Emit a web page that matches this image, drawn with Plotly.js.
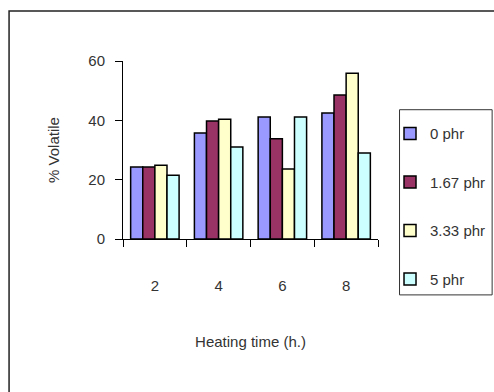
<!DOCTYPE html>
<html>
<head>
<meta charset="utf-8">
<script src="https://cdn.plot.ly/plotly-3.0.1.min.js"></script>
<style>html,body{margin:0;padding:0;background:#fff;}#chart{width:494px;height:392px;}</style>
</head>
<body>
<div id="chart"></div>
<script>
var categories = ["2", "4", "6", "8"];
var seriesNames = ["0 phr", "1.67 phr", "3.33 phr", "5 phr"];
var phr0 = [24.3, 35.7, 41.1, 42.5];
var phr167 = [24.3, 39.8, 33.8, 48.5];
var phr333 = [24.9, 40.4, 23.6, 55.9];
var phr5 = [21.5, 31.0, 41.1, 29.0];
var colors = ["#9999FF", "#993366", "#FFFFCC", "#CCFFFF"];
var yTicks = [0, 20, 40, 60];

var values = [phr0, phr167, phr333, phr5];
var traces = values.map(function (v, i) {
  return {
    type: "bar",
    x: categories,
    y: v,
    name: seriesNames[i],
    legendgroup: "g" + i,
    marker: { color: colors[i], line: { color: "#000", width: 1.5 } },
    hoverinfo: "skip"
  };
});

var L = 123.3, R = 378, T = 60.7, B = 239, W = 494, H = 392;
var pw = R - L, ph = B - T;
function px(x) { return (x - L) / pw; }
function py(y) { return (B - y) / ph; }

var layout = {
  width: W, height: H,
  margin: { l: L, r: W - R, t: T, b: H - B, pad: 0, autoexpand: false },
  paper_bgcolor: "#fff", plot_bgcolor: "rgba(0,0,0,0)",
  font: { family: "Liberation Sans, Arial, sans-serif", size: 15, color: "#333" },
  barmode: "group", bargap: 0.24, bargroupgap: 0,
  showlegend: true,
  legend: {
    x: px(390), y: py(117), xanchor: "left", yanchor: "top",
    borderwidth: 0, bgcolor: "rgba(0,0,0,0)",
    traceorder: "grouped", tracegroupgap: 26, itemwidth: 30,
    font: { size: 15, color: "#333" }
  },
  xaxis: {
    type: "category", showgrid: false, zeroline: false,
    showline: true, linecolor: "#000", linewidth: 1,
    ticks: "outside", tickson: "boundaries", ticklen: 7, tickcolor: "#000",
    ticklabelstandoff: 33,
    title: { text: "Heating time (h.)", font: { size: 15, color: "#333" }, standoff: 43 }
  },
  yaxis: {
    range: [0, 60], tickvals: yTicks, ticktext: yTicks.map(String),
    showgrid: false, zeroline: false,
    showline: true, linecolor: "#000", linewidth: 1,
    ticks: "outside", ticklen: 7, tickcolor: "#000",
    ticklabelstandoff: 7,
    title: { text: "% Volatile", font: { size: 15, color: "#333" }, standoff: 25 }
  },
  shapes: [{
    type: "rect", xref: "paper", yref: "paper",
    x0: px(9.5), x1: px(600), y0: py(600), y1: py(10.5),
    line: { color: "#222", width: 1.5 }, fillcolor: "rgba(0,0,0,0)", layer: "below"
  }, {
    type: "rect", xref: "paper", yref: "paper",
    x0: px(399.5), x1: px(492), y0: py(295), y1: py(109.5),
    line: { color: "#333", width: 1 }, fillcolor: "#fff", layer: "below"
  }]
};

Plotly.newPlot("chart", traces, layout, { displayModeBar: false, staticPlot: true });
</script>
</body>
</html>
